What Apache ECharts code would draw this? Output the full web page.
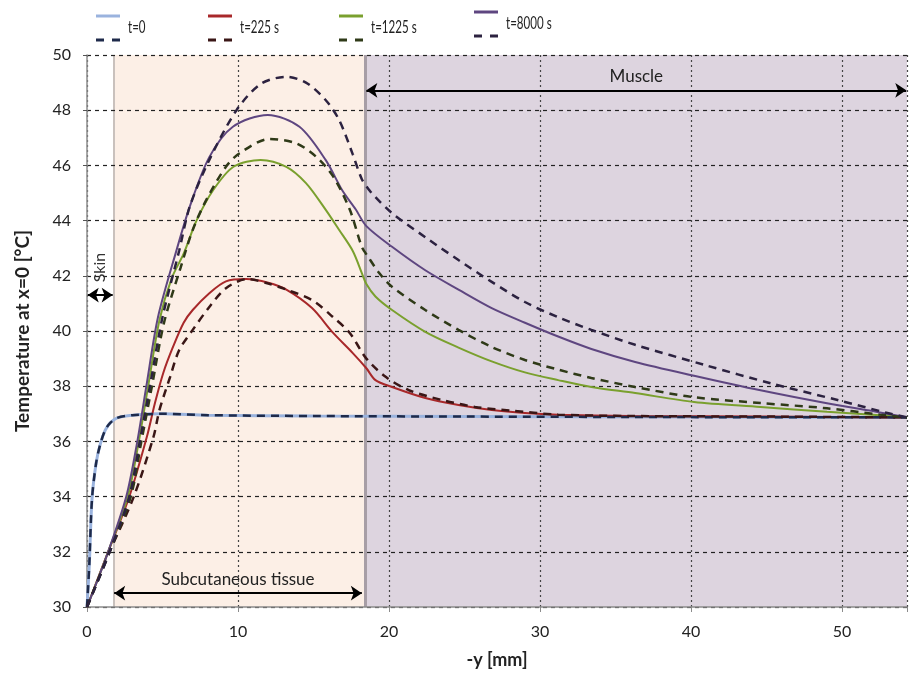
<!DOCTYPE html>
<html>
<head>
<meta charset="utf-8">
<script src="https://cdn.jsdelivr.net/npm/echarts@6/dist/echarts.min.js"></script>
<style>
  html, body { margin: 0; padding: 0; background: #fff; }
  #chart { width: 910px; height: 678px; }
</style>
</head>
<body>
<div id="chart"></div>
<script>
// depth -y [mm] vs temperature [°C]
const t0Solid = [[0, 30], [0.15, 31.5], [0.33, 33.9], [0.6, 35.2], [0.88, 35.9], [1.2, 36.4], [1.54, 36.67], [2, 36.85], [3, 36.95], [5, 37.0], [8, 36.95], [15, 36.92], [25, 36.9], [40, 36.88], [54.3, 36.87]]
const t0Dashed = t0Solid

const t225Solid = [[0, 30], [1.4, 32], [2.8, 34], [3.96, 36.16], [4.5, 37.39], [5.05, 38.48], [5.7, 39.43], [6.4, 40.3], [7.0, 40.76], [8.1, 41.37], [9.2, 41.8], [10.55, 41.88], [12, 41.75], [13.2, 41.5], [14.9, 40.83], [16.3, 39.93], [17.6, 39.2], [18.5, 38.65], [19.1, 38.22], [20.2, 37.97], [22.4, 37.57], [24.6, 37.32], [26.8, 37.14], [29, 37.03], [31.2, 36.97], [36, 36.92], [45, 36.9], [54.3, 36.87]]
const t225Dashed = [[0, 30], [1.5, 32], [3.1, 34], [4.4, 36.16], [4.8, 37.14], [5.5, 38.33], [6.1, 39.3], [7.0, 40.04], [8.1, 40.87], [9.2, 41.55], [10.6, 41.88], [12, 41.72], [13.2, 41.5], [14.9, 41.12], [16.3, 40.5], [17.4, 39.93], [18.5, 39.0], [19.8, 38.33], [21.3, 37.86], [23.5, 37.5], [25.7, 37.25], [28, 37.12], [31.2, 36.97], [36, 36.92], [45, 36.9], [54.3, 36.87]]

const t1225Solid = [[0, 30], [1.4, 32], [2.7, 34], [3.4, 35.9], [4.05, 38], [4.8, 40.4], [5.6, 41.9], [6.4, 42.8], [7.25, 44.0], [8.35, 45.1], [9.7, 45.95], [11.5, 46.2], [13.2, 45.95], [14.5, 45.36], [15.8, 44.4], [16.7, 43.66], [17.6, 42.9], [18.2, 42.1], [18.5, 41.7], [19.1, 41.25], [20.2, 40.76], [22.4, 39.97], [24.6, 39.4], [26.8, 38.9], [29, 38.5], [31.2, 38.22], [33.4, 37.97], [36.3, 37.75], [40.2, 37.43], [44.6, 37.25], [49, 37.07], [52.5, 36.95], [54.3, 36.87]]
const t1225Dashed = [[0, 30], [1.5, 32], [2.9, 34], [3.6, 36], [4.3, 38], [5.1, 40.3], [6.2, 42.3], [7.0, 43.66], [7.9, 44.75], [9.2, 45.95], [10.1, 46.44], [12.1, 46.96], [13.85, 46.8], [15.2, 46.3], [16.3, 45.6], [17.4, 44.4], [18.2, 43.05], [18.6, 42.7], [19.35, 42.1], [20.2, 41.6], [22.4, 40.76], [24.6, 40.04], [26.8, 39.42], [29, 38.95], [31.2, 38.6], [33.4, 38.3], [36.3, 37.97], [40.2, 37.6], [44.6, 37.39], [49, 37.2], [52.5, 36.97], [54.3, 36.87]]

const t8000Solid = [[0, 30], [1.4, 32], [2.6, 34], [3.3, 35.9], [3.96, 38.1], [4.7, 40.5], [5.93, 42.93], [6.8, 44.5], [8.1, 46.3], [9.66, 47.4], [11.97, 47.83], [14.07, 47.4], [15.8, 46.2], [16.9, 45.1], [17.8, 44.4], [18.5, 43.8], [20.2, 43.05], [22.4, 42.2], [24.6, 41.5], [26.8, 40.83], [29, 40.3], [31.2, 39.8], [33.4, 39.35], [36.3, 38.88], [40.2, 38.38], [44.6, 37.85], [49, 37.38], [52.5, 37.05], [54.3, 36.87]]
const t8000Dashed = [[0, 30], [1.5, 32], [2.8, 34], [3.5, 36], [4.2, 38.1], [5.0, 40.5], [6.1, 42.9], [6.8, 44.5], [8.1, 46.2], [9.9, 48.0], [11.5, 48.95], [13.2, 49.21], [14.5, 49.0], [15.8, 48.37], [16.7, 47.64], [17.6, 46.4], [18.2, 45.5], [18.7, 45.1], [19.1, 44.85], [20.2, 44.27], [22.4, 43.4], [24.6, 42.57], [26.8, 41.78], [29, 41.05], [31.2, 40.5], [33.4, 40.04], [36.3, 39.5], [40.9, 38.77], [45.3, 38.1], [49.7, 37.5], [53, 37.03], [54.3, 36.87]]

const legendNames = ['t=0', 't=225 s', 't=1225 s', 't=8000 s']
const solidColors = ['#9ab3de', '#a8282a', '#7aa02e', '#5e4680']
const dashedColors = ['#1e2a4a', '#3a1616', '#2f3a18', '#2c2240']

// tissue layers: skin | subcutaneous | muscle
const layerEdges = [0, 1.75, 18.45, 54.3]
const layerNames = ['Skin', 'Subcutaneous tissue', 'Muscle']

const FONT = 'Lato, "Open Sans", sans-serif'

const chart = echarts.init(document.getElementById('chart'))

const solidSets = [t0Solid, t225Solid, t1225Solid, t8000Solid]
const dashedSets = [t0Dashed, t225Dashed, t1225Dashed, t8000Dashed]

const series = []

// background bands live on an empty helper series
series.push({
  type: 'line',
  data: [],
  z: 0,
  silent: true,
  markArea: {
    z: 0,
    silent: true,
    data: [
      [{ xAxis: layerEdges[1], itemStyle: { color: '#fcefe6' } }, { xAxis: layerEdges[2] }],
      [{ xAxis: layerEdges[2], itemStyle: { color: '#ddd4df' } }, { xAxis: layerEdges[3] }]
    ]
  },
  markLine: {
    z: 0,
    silent: true,
    symbol: 'none',
    label: { show: false },
    data: [
      { xAxis: layerEdges[1], lineStyle: { color: '#c9c1bd', width: 2, type: 'solid' } },
      { xAxis: layerEdges[2], lineStyle: { color: '#a79ea6', width: 3, type: 'solid' } }
    ]
  }
})

solidSets.forEach((d, i) => {
  series.push({
    name: legendNames[i],
    type: 'line',
    data: d,
    showSymbol: false,
    smooth: 0.3,
    z: 2,
    lineStyle: { color: solidColors[i], width: i === 0 ? 3 : 2 }
  })
})
dashedSets.forEach((d, i) => {
  series.push({
    name: legendNames[i] + ' dashed',
    type: 'line',
    data: d,
    showSymbol: false,
    smooth: 0.3,
    z: 3,
    lineStyle: { color: dashedColors[i], width: 2.5, type: [8, 6] }
  })
})

// arrows with labels
series.push({
  type: 'line',
  data: [],
  z: 4,
  silent: true,
  markLine: {
    silent: true,
    symbol: ['arrow', 'arrow'],
    symbolSize: [11, 11],
    lineStyle: { color: '#000', width: 2, type: 'solid' },
    label: {
      show: true,
      position: 'middle',
      fontFamily: FONT,
      fontSize: 17,
      color: '#222',
      distance: 5,
      formatter: p => p.name
    },
    data: [
      [{ name: '', coord: [layerEdges[0] + 0.05, 41.3] }, { coord: [layerEdges[1] - 0.05, 41.3] }],
      [{ name: layerNames[1], coord: [layerEdges[1] + 0.05, 30.5] }, { coord: [layerEdges[2] - 0.25, 30.5] }],
      [{ name: layerNames[2], coord: [layerEdges[2] + 0.05, 48.72] }, { coord: [layerEdges[3] - 0.05, 48.72] }]
    ]
  },
  markPoint: {
    silent: true,
    symbol: 'circle',
    symbolSize: 0,
    label: {
      show: true,
      rotate: 90,
      fontFamily: FONT,
      fontSize: 16,
      color: '#333',
      formatter: layerNames[0]
    },
    data: [{ coord: [0.87, 42.3] }]
  }
})

// two-row legend swatches (solid above, dashed below) drawn as graphics
const legendX = [96, 208, 339, 474]
const legendY = [16, 16, 16, 12]
const graphic = []
legendNames.forEach((n, i) => {
  const x = legendX[i], y = legendY[i]
  graphic.push({
    type: 'line', shape: { x1: x, y1: y, x2: x + 24, y2: y },
    style: { stroke: solidColors[i], lineWidth: 3 }
  })
  graphic.push({
    type: 'line', shape: { x1: x, y1: y + 24, x2: x + 24, y2: y + 24 },
    style: { stroke: dashedColors[i], lineWidth: 3, lineDash: [8, 8] }
  })
  graphic.push({
    type: 'text', x: x + 32, y: y + 12, scaleX: 0.68,
    style: { text: n, font: '17px ' + FONT, fill: '#222', verticalAlign: 'middle' }
  })
})

chart.setOption({
  backgroundColor: '#fff',
  animation: false,
  grid: { left: 87, right: 0, top: 55, bottom: 71 },
  graphic: graphic,
  xAxis: {
    type: 'value',
    min: 0,
    max: layerEdges[3],
    interval: 10,
    z: 1,
    name: '-y [mm]',
    nameLocation: 'middle',
    nameGap: 44,
    nameTextStyle: { fontFamily: FONT, fontSize: 18, fontWeight: 'bold', color: '#222' },
    axisLine: { show: true, lineStyle: { color: '#8c8c8c', width: 1.5 } },
    axisTick: { show: true, length: 5, lineStyle: { color: '#8c8c8c' } },
    axisLabel: {
      fontFamily: FONT, fontSize: 16, color: '#222', margin: 17,
      formatter: v => (v % 10 === 0 ? String(v) : '')
    },
    splitLine: { show: true, lineStyle: { color: '#444', type: [2, 3], width: 1.2 } }
  },
  yAxis: {
    type: 'value',
    min: 30,
    max: 50,
    interval: 2,
    z: 1,
    name: 'Temperature at x=0 [°C]',
    nameLocation: 'middle',
    nameGap: 55,
    nameRotate: 90,
    nameTextStyle: { fontFamily: FONT, fontSize: 19, fontWeight: 'bold', color: '#222' },
    axisLine: { show: true, lineStyle: { color: '#8c8c8c', width: 1.5 } },
    axisTick: { show: true, length: 6, lineStyle: { color: '#555', type: 'dashed' } },
    axisLabel: { fontFamily: FONT, fontSize: 16, color: '#222', margin: 16 },
    splitLine: { show: true, lineStyle: { color: '#222', type: [4, 4], width: 1.2 } }
  },
  series: series
})
</script>
</body>
</html>
